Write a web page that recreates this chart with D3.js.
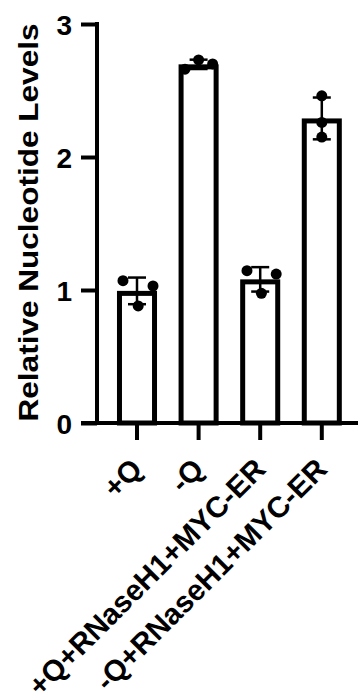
<!DOCTYPE html>
<html>
<head>
<meta charset="utf-8">
<script src="https://cdn.jsdelivr.net/npm/d3@7"></script>
<style>
  html, body { margin: 0; padding: 0; background: #fff; }
  svg { display: block; }
  text { font-family: "Liberation Sans", Arial, Helvetica, sans-serif; font-weight: bold; fill: #000; }
</style>
</head>
<body>
<svg id="chart" width="358" height="697"></svg>
<script>
// Conditions on the x axis
const categories = ["+Q", "-Q", "+Q+RNaseH1+MYC-ER", "-Q+RNaseH1+MYC-ER"];

// Replicate measurements for each condition
const plusQ = [1.07, 1.03, 0.88];
const minusQ = [2.66, 2.73, 2.70];
const plusQRnase = [1.145, 1.12, 0.975];
const minusQRnase = [2.46, 2.26, 2.15];
const replicates = [plusQ, minusQ, plusQRnase, minusQRnase];

// Horizontal spread of the replicate dots, as a fraction of bar width
const jitter = [[-0.35, 0.4, 0.03], [-0.34, 0.0, 0.35], [-0.33, 0.4, 0.03], [0, 0, 0]];

const yTicks = [0, 1, 2, 3];
const yTitle = "Relative Nucleotide Levels";

const mean = a => d3.mean(a);
const sd = a => d3.deviation(a);

const svg = d3.select("#chart");

const y = d3.scaleLinear().domain([0, 3]).range([423, 24]);
const x = d3.scaleBand().domain(categories).range([106.2, 352.6])
  .paddingInner(0.35).paddingOuter(0.175);

const axisX = 97;
const baseY = y(0);
const lw = 4;

// Bars: white fill, heavy black outline drawn inside the bar area
const barStroke = 5;
svg.append("g").selectAll("rect")
  .data(categories)
  .join("rect")
  .attr("x", d => x(d) + barStroke / 2)
  .attr("width", x.bandwidth() - barStroke)
  .attr("y", (d, i) => y(mean(replicates[i])) + barStroke / 2)
  .attr("height", (d, i) => baseY - y(mean(replicates[i])) - barStroke / 2)
  .attr("fill", "#fff")
  .attr("stroke", "#000")
  .attr("stroke-width", barStroke);

// Error bars (mean ± SD)
const capW = 18;
const eg = svg.append("g").attr("stroke", "#000").attr("stroke-width", 2.5);
categories.forEach((c, i) => {
  const cx = x(c) + x.bandwidth() / 2;
  const m = mean(replicates[i]), s = sd(replicates[i]);
  eg.append("line").attr("x1", cx).attr("x2", cx).attr("y1", y(m + s)).attr("y2", y(m - s));
  eg.append("line").attr("x1", cx - capW / 2).attr("x2", cx + capW / 2).attr("y1", y(m + s)).attr("y2", y(m + s));
  eg.append("line").attr("x1", cx - capW / 2).attr("x2", cx + capW / 2).attr("y1", y(m - s)).attr("y2", y(m - s));
});

// Replicate dots
const dg = svg.append("g");
categories.forEach((c, i) => {
  const cx = x(c) + x.bandwidth() / 2;
  dg.selectAll(null)
    .data(replicates[i])
    .join("circle")
    .attr("cx", (v, j) => cx + jitter[i][j] * x.bandwidth())
    .attr("cy", v => y(v))
    .attr("r", 5.5)
    .attr("fill", "#000");
});

// Y axis
const yAxis = d3.axisLeft(y).tickValues(yTicks).tickFormat(d3.format("d"))
  .tickSizeInner(16).tickSizeOuter(0).tickPadding(9);
const gy = svg.append("g").attr("transform", `translate(${axisX},0)`).call(yAxis);
gy.select(".domain").remove();
gy.selectAll(".tick line").attr("stroke", "#000").attr("stroke-width", lw);
gy.selectAll(".tick text").attr("font-size", 28).attr("dy", "0.36em")
  .style("font-family", "'Liberation Sans', Arial, sans-serif").style("font-weight", "bold");
svg.append("line").attr("x1", axisX).attr("x2", axisX)
  .attr("y1", y(3) - lw / 2).attr("y2", baseY + lw / 2)
  .attr("stroke", "#000").attr("stroke-width", lw);

// X axis
const xAxis = d3.axisBottom(x).tickSizeInner(17).tickSizeOuter(0).tickFormat("");
const gx = svg.append("g").attr("transform", `translate(0,${baseY})`).call(xAxis);
gx.select(".domain").remove();
gx.selectAll(".tick line").attr("stroke", "#000").attr("stroke-width", lw);
svg.append("line").attr("x1", axisX - 16).attr("x2", 358)
  .attr("y1", baseY).attr("y2", baseY)
  .attr("stroke", "#000").attr("stroke-width", lw);

// Rotated category labels
svg.append("g").selectAll("text")
  .data(categories)
  .join("text")
  .attr("text-anchor", "end")
  .attr("font-size", 29.5)
  .attr("transform", d => `translate(${x(d) + x.bandwidth() / 2 + 7},471) rotate(-45)`)
  .text(d => d);

// Y axis title
svg.append("text")
  .attr("text-anchor", "middle")
  .attr("font-size", 28)
  .attr("textLength", 398)
  .attr("lengthAdjust", "spacingAndGlyphs")
  .attr("transform", `translate(38,${(y(3) + baseY) / 2 - 1}) rotate(-90)`)
  .text(yTitle);
</script>
</body>
</html>
